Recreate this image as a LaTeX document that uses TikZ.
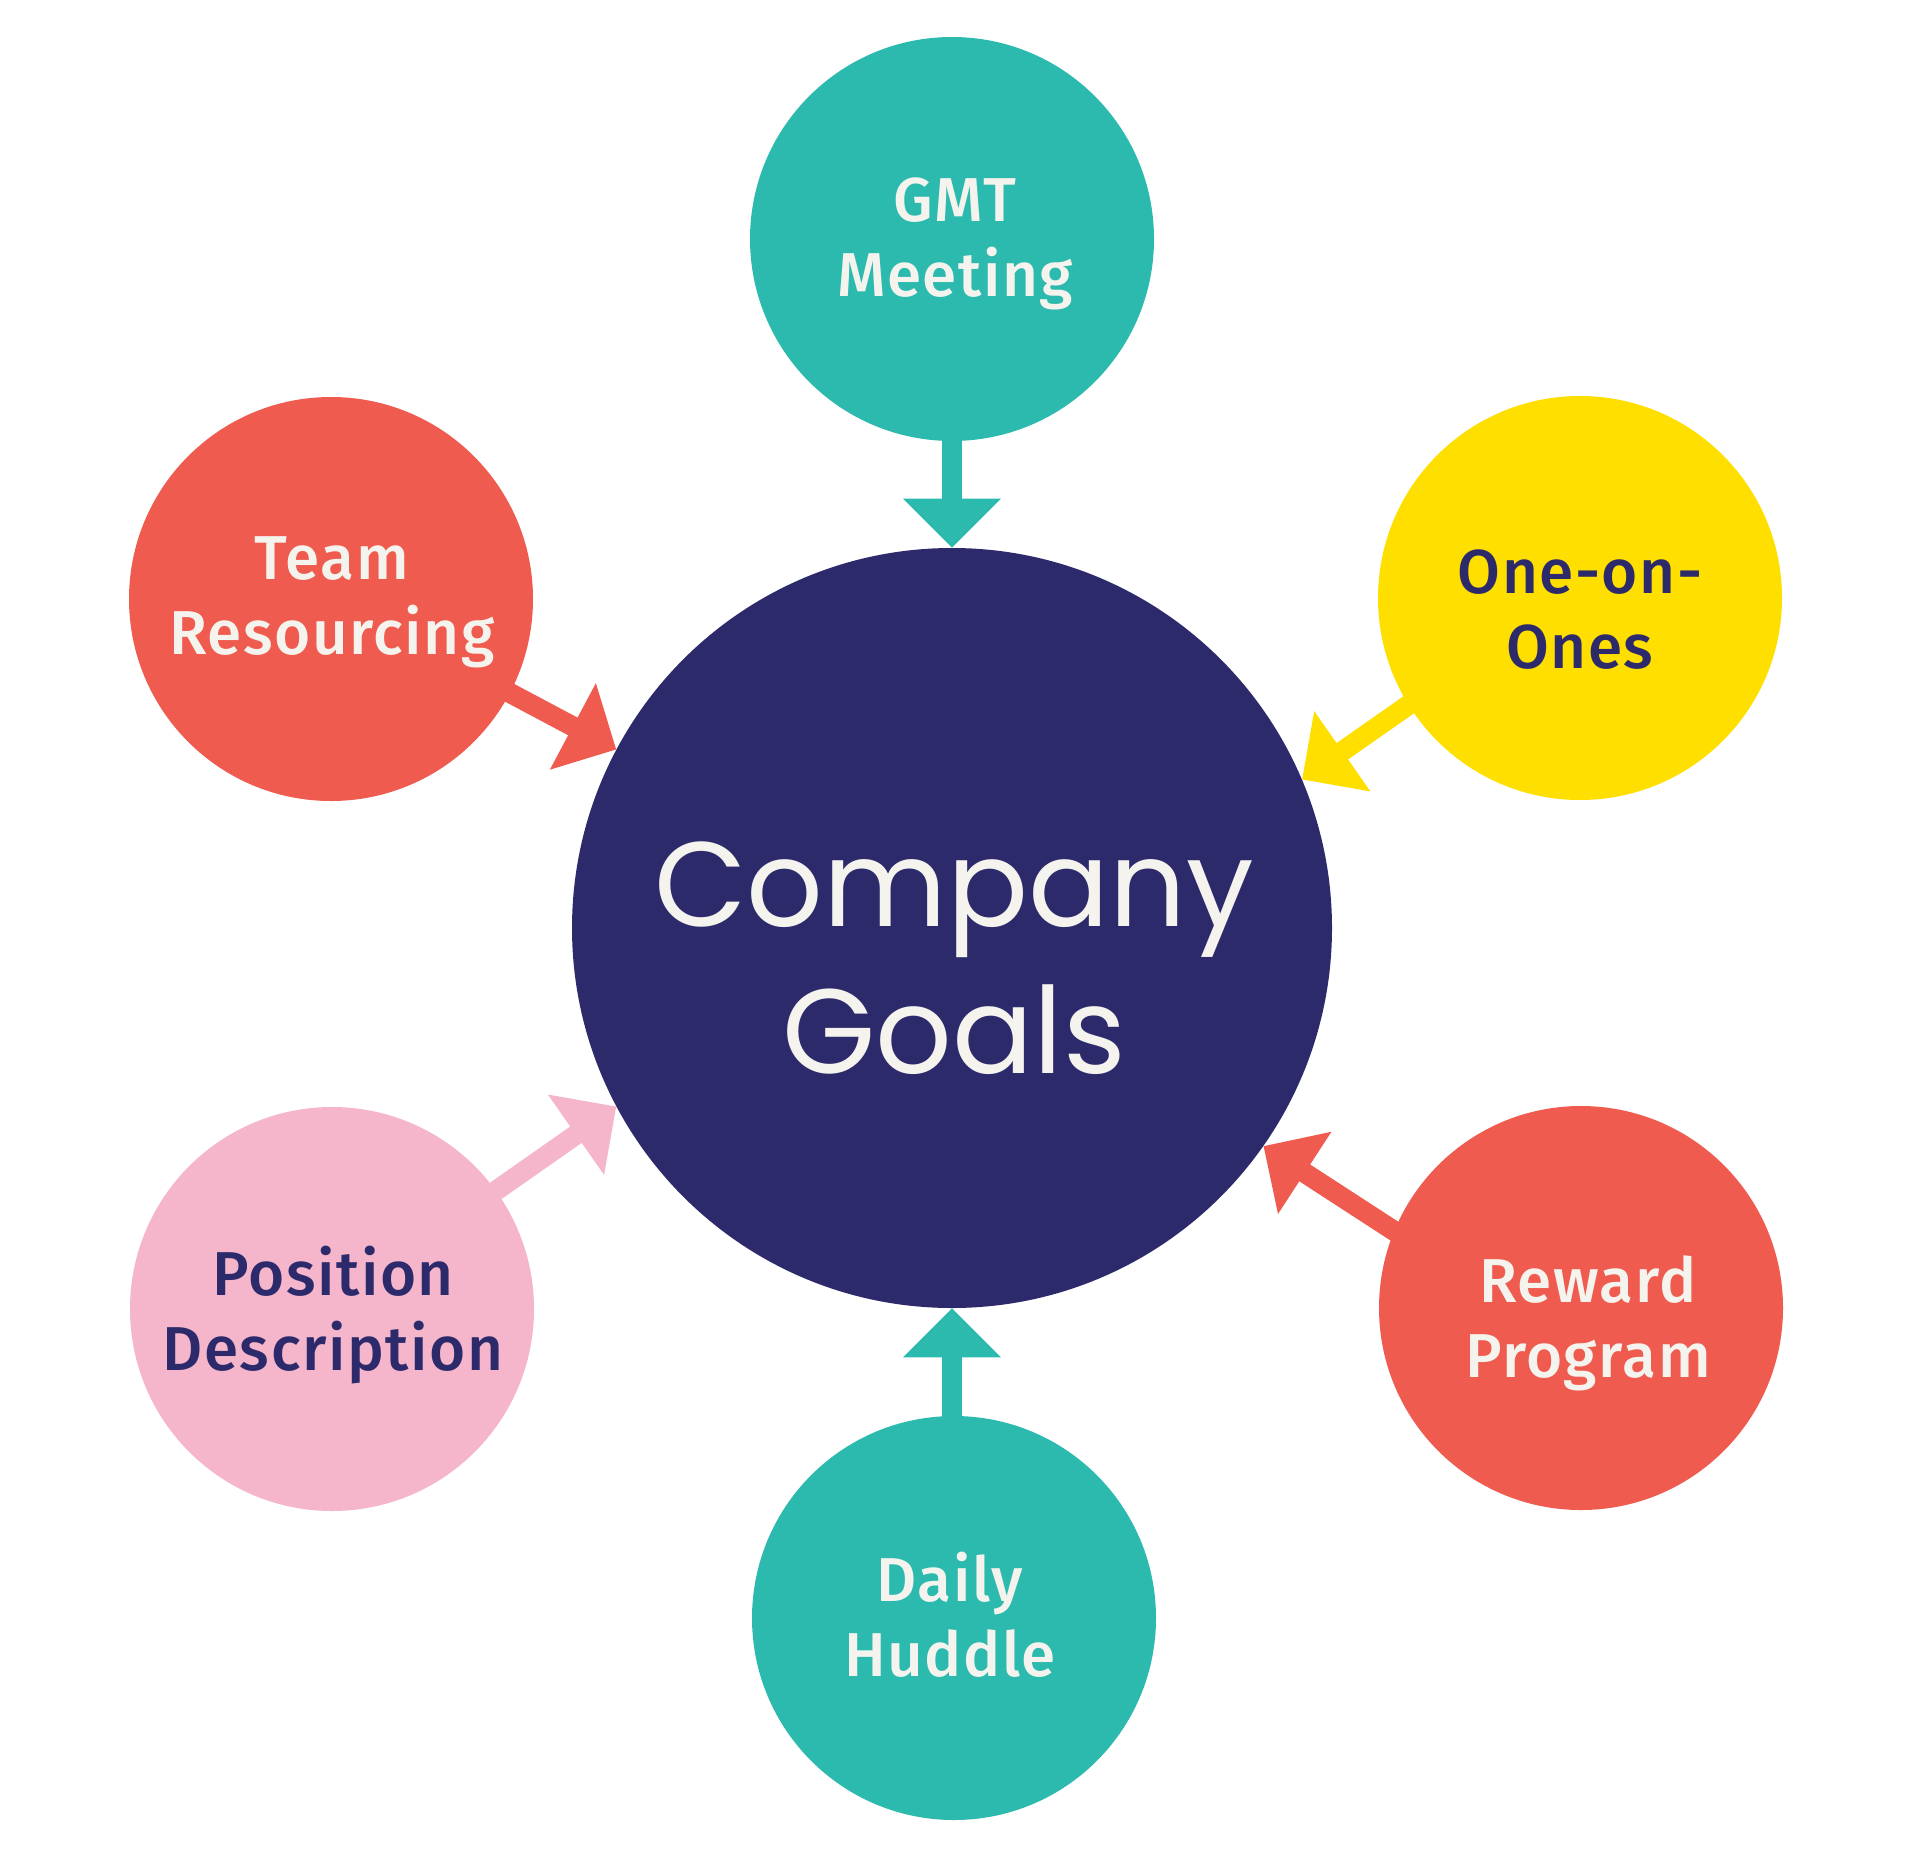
\documentclass[tikz,border=0pt]{standalone}
\usepackage{fontspec}
\setmainfont{Fira Sans Medium}[LetterSpace=2.5]
\newfontfamily\goalfont{Poppins}
\usetikzlibrary{calc}
\definecolor{cTeal}{HTML}{2DBAAE}
\definecolor{cNavy}{HTML}{2D2A6C}
\definecolor{cRed}{HTML}{EF5B4F}
\definecolor{cYellow}{HTML}{FEDF00}
\definecolor{cPink}{HTML}{F5B6CC}
\definecolor{cText}{HTML}{F5F3EE}
\pgfdeclarelayer{back}
\pgfsetlayers{back,main}
\newcommand\capln[1]{\raisebox{0pt}[\fontcharht\font`H][0pt]{#1}}
\newcommand\pointer[3]{%
  \coordinate (pb) at ($(#3)!24.5pt!(#2)$);
  \draw[#1, line width=10pt] (#2) -- ($(#3)!20pt!(#2)$);
  \fill[#1] (#3) -- ($(pb)!24.5pt!90:(#3)$) -- ($(pb)!24.5pt!-90:(#3)$) -- cycle;
}
\tikzset{
  bubble/.style={circle, minimum size=202pt, inner sep=0pt, draw=none},
  lbl/.style={font=\fontsize{31pt}{37.5pt}\selectfont, align=center, inner sep=0pt},
  goaltext/.style={font=\goalfont\fontsize{60pt}{73.5pt}\selectfont, align=center, inner sep=0pt, text=cText},
}
\begin{document}
\begin{tikzpicture}[x=0.5pt,y=-0.5pt]
\useasboundingbox (0,0) rectangle (1920,1857);
\begin{pgfonlayer}{back}
\fill[white] (0,0) rectangle (1920,1857);
\end{pgfonlayer}
% circles
\node[bubble, fill=cNavy, minimum size=380pt] (goal) at (952,928) {};
\node[bubble, fill=cTeal] (gmt) at (952,239) {};
\node[bubble, fill=cRed] (team) at (331,599) {};
\node[bubble, fill=cYellow] (one) at (1580,598) {};
\node[bubble, fill=cPink] (pos) at (332,1309) {};
\node[bubble, fill=cRed] (rew) at (1581,1308) {};
\node[bubble, fill=cTeal] (daily) at (954,1618) {};
% labels
\node[goaltext] (goalT) at (954,958) {\capln{Company}\\\capln{Goals}};
\node[lbl, text=cText] (gmtT) at (955,238) {\capln{GMT}\\\capln{Meeting}};
\node[lbl, text=cText] (teamT) at (332,596) {\capln{Team}\\\capln{Resourcing}};
\node[lbl, text=cNavy] (oneT) at (1580,610) {\capln{One-on-}\\\capln{Ones}};
\node[lbl, text=cNavy] (posT) at (333,1312) {\capln{Position}\\\capln{Description}};
\node[lbl, text=cText] (rewT) at (1588,1319) {\capln{Reward}\\\capln{Program}};
\node[lbl, text=cText] (dailyT) at (950,1618) {\capln{Daily}\\\capln{Huddle}};
% arrows
\begin{pgfonlayer}{back}
\coordinate (gmtS) at ($(goal.90)+(0,-140)$);
\coordinate (teamS) at ($(goal.152)+(208:150)$);
\coordinate (oneS) at ($(goal.23)+(-35:150)$);
\coordinate (posS) at ($(goal.208)+(145:180)$);
\coordinate (rewS) at ($(goal.-35)+(33:190)$);
\coordinate (dailyS) at ($(goal.-90)+(0,130)$);
\pointer{cTeal}{gmtS}{goal.90}
\pointer{cRed}{teamS}{goal.152}
\pointer{cYellow}{oneS}{goal.23}
\pointer{cPink}{posS}{goal.208}
\pointer{cRed}{rewS}{goal.-35}
\pointer{cTeal}{dailyS}{goal.-90}
\end{pgfonlayer}
\end{tikzpicture}
\end{document}
